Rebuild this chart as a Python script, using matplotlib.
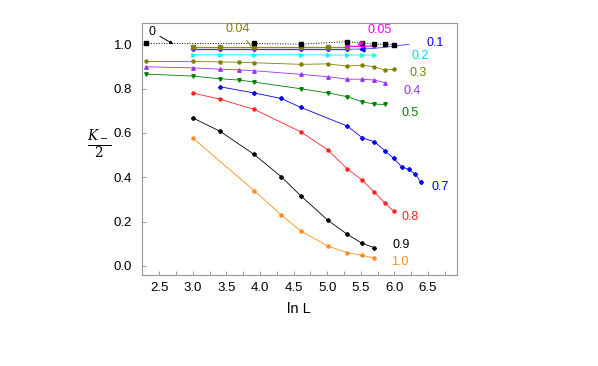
import numpy as np
import matplotlib
matplotlib.use("Agg")
import matplotlib.pyplot as plt
from matplotlib.ticker import MultipleLocator

plt.rcParams['font.family'] = ['Liberation Sans', 'DejaVu Sans']
plt.rcParams['mathtext.fontset'] = 'dejavuserif'

# System sizes L (x = ln L)
L_a = [20, 50, 75, 100, 150, 200, 250, 300]
y_10 = [0.578, 0.34, 0.23, 0.158, 0.09, 0.06, 0.048, 0.035]

L_b = [20, 30, 50, 75, 100, 150, 200, 250, 300]
y_09 = [0.668, 0.608, 0.503, 0.402, 0.317, 0.206, 0.143, 0.102, 0.082]

L_c = [20, 30, 50, 100, 150, 200, 250, 300, 350, 400]
y_08 = [0.78, 0.752, 0.706, 0.605, 0.523, 0.438, 0.387, 0.332, 0.285, 0.246]

L_d = [30, 50, 75, 100, 200, 250, 300, 350, 400, 450, 500, 550, 600]
y_07 = [0.808, 0.78, 0.755, 0.715, 0.631, 0.578, 0.56, 0.519, 0.485, 0.447, 0.435, 0.414, 0.377]

L_e = [10, 20, 30, 40, 50, 100, 150, 200, 250, 300, 350]
y_05 = [0.865, 0.856, 0.844, 0.838, 0.829, 0.799, 0.78, 0.763, 0.74, 0.73, 0.728]
y_04 = [0.898, 0.893, 0.887, 0.884, 0.88, 0.864, 0.853, 0.842, 0.842, 0.838, 0.826]

L_f = [10, 20, 30, 40, 50, 100, 150, 200, 250, 300, 350, 400]
y_03 = [0.922, 0.922, 0.92, 0.918, 0.916, 0.909, 0.911, 0.901, 0.905, 0.898, 0.883, 0.886]

L_g = [20, 30, 50, 100, 150, 200, 250, 300]
y_02 = [0.952, 0.952, 0.952, 0.952, 0.951, 0.951, 0.951, 0.951]

L_h = [20, 30, 50, 100, 150, 200]
y_01 = [0.977, 0.977, 0.977, 0.977, 0.977, 0.977]
y_004 = [0.986, 0.986, 0.986, 0.986, 0.986, 0.986]

L_h_ext = [200, 250, 300, 350, 400, 500]
y_01_ext = [0.977, 0.978, 0.981, 0.986, 0.991, 0.999]
L_h_tri = [250]
y_01_tri = [0.978]

L_m = [200, 250, 300]
y_005 = [0.99, 0.99, 0.992]

L_0 = [10, 50, 100, 200, 250, 300, 350, 400]
y_0 = [1.003, 1.003, 1.0, 1.011, 1.004, 1.0, 0.999, 0.998]

labels = ['1.0', '0.9', '0.8', '0.7', '0.5', '0.4', '0.3', '0.2', '0.1']

fig = plt.figure(figsize=(5.98, 3.66), dpi=100)
ax = fig.add_axes([0.237, 0.249, 0.527, 0.688])

lw = 0.6
ms = 2.2
def ln(L):
    return np.log(np.array(L, dtype=float))

ax.plot(ln(L_0), y_0, color='black', ls=':', lw=0.7, marker='s', ms=2.2, zorder=3)
ax.plot(ln(L_a), y_10, color='#FF8C1A', lw=lw, marker='o', ms=ms)
ax.plot(ln(L_b), y_09, color='black', lw=lw, marker='P', ms=ms + 0.3)
ax.plot(ln(L_c), y_08, color='#FF2020', lw=lw, marker='o', ms=ms)
ax.plot(ln(L_d), y_07, color='#0000FF', lw=lw, marker='D', ms=ms - 0.2)
ax.plot(ln(L_e), y_05, color='#008000', lw=lw, marker='v', ms=ms + 0.3)
ax.plot(ln(L_e), y_04, color='#9933FF', lw=lw, marker='^', ms=ms + 0.3)
ax.plot(ln(L_f), y_03, color='#808000', lw=lw, marker='o', ms=ms)
ax.plot(ln(L_g), y_02, color='#00FFFF', lw=lw, marker='>', ms=ms + 0.3)
ax.plot(ln(L_h), y_01, color='#3333FF', lw=0.9, marker='D', ms=ms)
ax.plot(ln(L_h_ext), y_01_ext, color='#5555FF', lw=0.7)
ax.plot(ln(L_h_tri), y_01_tri, color='#0000FF', ls='none', marker='<', ms=3.5)
ax.plot(ln(L_h), y_004, color='#808000', lw=0.9, marker='s', ms=ms, alpha=0.9)
ax.plot(ln(L_m), y_005, color='#FF00FF', lw=0.9, marker='o', ms=1.8)

fs = 9
ax.text(6.48, 1.005, '0.1', color='#0000FF', fontsize=fs, va='center')
ax.text(6.25, 0.945, '0.2', color='#00D8FF', fontsize=fs, va='center')
ax.text(6.23, 0.87, '0.3', color='#808000', fontsize=fs, va='center')
ax.text(6.13, 0.788, '0.4', color='#9933FF', fontsize=fs, va='center')
ax.text(6.1, 0.69, '0.5', color='#008000', fontsize=fs, va='center')
ax.text(6.55, 0.355, '0.7', color='#0000FF', fontsize=fs, va='center')
ax.text(6.1, 0.22, '0.8', color='#FF2020', fontsize=fs, va='center')
ax.text(5.97, 0.093, '0.9', color='black', fontsize=fs, va='center')
ax.text(5.95, 0.02, '1.0', color='#FF8C1A', fontsize=fs, va='center')

ax.annotate('0', xy=(2.71, 1.0), xytext=(2.4, 1.055), fontsize=fs, color='black',
            ha='center', va='center',
            arrowprops=dict(arrowstyle='-|>', color='black', lw=0.7, mutation_scale=5,
                            shrinkA=1, shrinkB=0))
ax.annotate('0.04', xy=(3.87, 0.99), xytext=(3.67, 1.066), fontsize=fs, color='#808000',
            ha='center', va='center',
            arrowprops=dict(arrowstyle='-', color='#808000', lw=0.7, shrinkA=2, shrinkB=0))
ax.annotate('0.05', xy=(5.45, 0.993), xytext=(5.78, 1.065), fontsize=fs, color='#FF00FF',
            ha='center', va='center',
            arrowprops=dict(arrowstyle='-|>', color='#FF00FF', lw=1.0, mutation_scale=6,
                            shrinkA=4, shrinkB=0))

ax.set_xlim(2.24, 6.93)
ax.set_ylim(-0.04, 1.095)
ax.xaxis.set_minor_locator(MultipleLocator(0.25))
ax.yaxis.set_major_locator(MultipleLocator(0.2))
ax.set_xticks(np.arange(2.5, 6.51, 0.5))
ax.tick_params(axis='both', which='both', direction='in', labelsize=9.5,
               color='#888888', length=3, width=0.6)
ax.tick_params(axis='x', which='both', top=False, pad=5)
ax.tick_params(axis='y', which='both', right=False, pad=7)
for s in ax.spines.values():
    s.set_color('#999999')
    s.set_linewidth(0.8)

ax.set_xlabel('ln L', fontsize=10.5, labelpad=6)
ax.text(-0.135, 0.515, r'$\frac{K_-}{2}$', transform=ax.transAxes, fontsize=14,
        ha='center', va='center')

fig.savefig('out.png', dpi=100)
